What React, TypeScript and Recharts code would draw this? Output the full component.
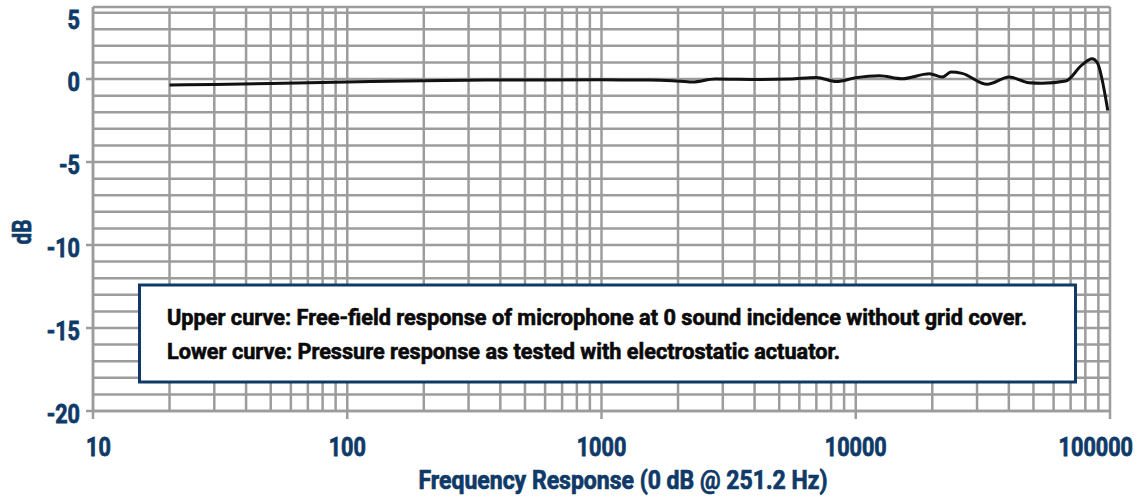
import React from 'react';
import { LineChart, Line, XAxis, YAxis, CartesianGrid } from 'recharts';

const frequencies = [20, 30, 50, 100, 200, 400, 1000, 1550, 1900, 2280, 2800, 4200, 5500, 7000, 8400, 10000, 12400, 15200, 19500, 21900, 23700, 26200, 32900, 40100, 48000, 54000, 67000, 77600, 85000, 89000, 98000];
const responseDb = [-0.36, -0.33, -0.27, -0.18, -0.1, -0.06, -0.05, -0.06, -0.1, -0.18, 0.0, -0.03, 0.0, 0.1, -0.15, 0.08, 0.2, 0.02, 0.32, 0.12, 0.42, 0.34, -0.32, 0.12, -0.22, -0.25, -0.12, 0.85, 1.22, 1.0, -1.9];

const xGridTicks = [10, 20, 30, 40, 50, 60, 70, 80, 90, 100, 200, 300, 400, 500, 600, 700, 800, 900, 1000, 2000, 3000, 4000, 5000, 6000, 7000, 8000, 9000, 10000, 20000, 30000, 40000, 50000, 60000, 70000, 80000, 90000, 100000];
const xLabelTicks = [10, 100, 1000, 10000, 100000];
const yGridTicks = [-20, -19, -18, -17, -16, -15, -14, -13, -12, -11, -10, -9, -8, -7, -6, -5, -4, -3, -2, -1, 0, 1, 2, 3, 4];
const yLabelTicks = [-20, -15, -10, -5, 0];
const yTopLabel = '5';
const yDomainTop = 4.34;

const noteLines = [
  'Upper curve: Free-field response of microphone at 0 sound incidence without grid cover.',
  'Lower curve: Pressure response as tested with electrostatic actuator.',
];

const data = frequencies.map((f, i) => ({ f, db: responseDb[i] }));

const NAVY = '#0f3a68';
const GRID = '#9c9c9c';
const FONT = 'Roboto, "Liberation Sans", Arial, sans-serif';

const labelWidth = (s: string) => {
  let w = 0;
  for (const c of s) w += c === '-' ? 8.5 : 12.4;
  return w;
};

const heavy = (color: string, sw: number) => ({
  fontFamily: FONT,
  fontWeight: 700,
  fill: color,
  stroke: color,
  strokeWidth: sw,
  lengthAdjust: 'spacingAndGlyphs' as const,
});

const XTick = (props: any) => {
  const { x, y, payload } = props;
  const v = payload.value;
  if (!xLabelTicks.includes(v)) return null;
  const s = String(v);
  const w = labelWidth(s);
  let cx = x;
  if (cx - w / 2 < 86) cx = 86 + w / 2;
  if (cx + w / 2 > 1133) cx = 1133 - w / 2;
  return (
    <g>
      <line x1={x} y1={y} x2={x} y2={y + 8} stroke={GRID} strokeWidth={2.5} />
      <text x={cx} y={y + 45} textAnchor="middle" fontSize={26} textLength={w} {...heavy(NAVY, 0.8)}>
        {s}
      </text>
    </g>
  );
};

const YTick = (props: any) => {
  const { x, y, payload } = props;
  const v = payload.value;
  if (v === 4) {
    return (
      <text x={x - 13} y={y + 16.5} textAnchor="end" fontSize={26} textLength={labelWidth(yTopLabel)} {...heavy(NAVY, 0.8)}>
        {yTopLabel}
      </text>
    );
  }
  if (!yLabelTicks.includes(v)) return null;
  const s = String(v);
  return (
    <g>
      <line x1={x - 7} y1={y} x2={x} y2={y} stroke={GRID} strokeWidth={2.5} />
      <text x={x - 13} y={y + 11.5} textAnchor="end" fontSize={26} textLength={labelWidth(s)} {...heavy(NAVY, 0.8)}>
        {s}
      </text>
    </g>
  );
};

export default function App() {
  return (
    <div style={{ position: 'absolute', left: 0, top: 0, width: 1148, height: 497, background: '#fff' }}>
      <LineChart width={1148} height={497} data={data} margin={{ top: 7, right: 38, bottom: 0, left: 0 }}>
        <CartesianGrid stroke={GRID} strokeWidth={2.5} horizontal vertical />
        <XAxis
          dataKey="f"
          type="number"
          scale="log"
          domain={[10, 100000]}
          ticks={xGridTicks}
          interval={0}
          allowDataOverflow
          height={86}
          tickLine={false}
          tickSize={0}
          tickMargin={0}
          axisLine={{ stroke: GRID, strokeWidth: 2.5 }}
          tick={<XTick />}
        />
        <YAxis
          type="number"
          domain={[-20, yDomainTop]}
          ticks={yGridTicks}
          interval={0}
          allowDataOverflow
          width={93}
          tickLine={false}
          tickSize={0}
          tickMargin={0}
          axisLine={{ stroke: GRID, strokeWidth: 2.5 }}
          tick={<YTick />}
        />
        <Line type="monotone" dataKey="db" stroke="#111" strokeWidth={3} dot={false} isAnimationActive={false} />
        <text x={623} y={489} textAnchor="middle" fontSize={25} textLength={409} {...heavy(NAVY, 0.7)}>
          Frequency Response (0 dB @ 251.2 Hz)
        </text>
        <text x={0} y={0} transform="translate(31,232) rotate(-90)" textAnchor="middle" fontSize={25} textLength={25} {...heavy(NAVY, 0.7)}>
          dB
        </text>
        <rect x={139.5} y={285} width={936} height={97} fill="#fff" stroke={NAVY} strokeWidth={3} />
        <text x={167} y={325} fontSize={22} textLength={860} {...heavy('#0a0a0a', 0.6)}>
          {noteLines[0]}
        </text>
        <text x={167} y={359} fontSize={22} textLength={673} {...heavy('#0a0a0a', 0.6)}>
          {noteLines[1]}
        </text>
      </LineChart>
    </div>
  );
}
